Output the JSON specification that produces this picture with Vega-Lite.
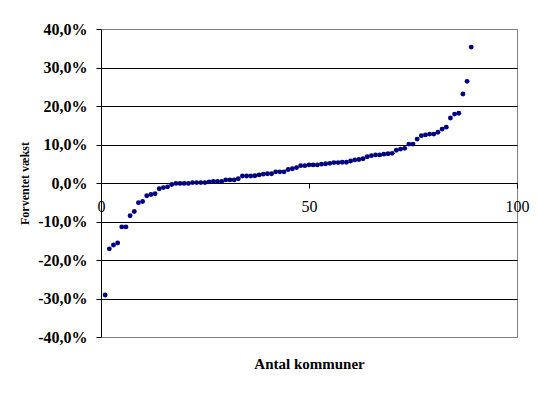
{
  "$schema": "https://vega.github.io/schema/vega-lite/v6.json",
  "autosize": {"type": "none"},
  "width": 416,
  "height": 308,
  "padding": {"left": 101, "top": 29, "right": 21, "bottom": 61},
  "background": "white",
  "config": {
    "view": {"stroke": "#808080", "strokeWidth": 1},
    "font": "Liberation Serif"
  },
  "data": {
    "values": [
      {"k": 1, "v": -29.1}, {"k": 2, "v": -17.1}, {"k": 3, "v": -16.1}, {"k": 4, "v": -15.6},
      {"k": 5, "v": -11.4}, {"k": 6, "v": -11.4}, {"k": 7, "v": -8.5}, {"k": 8, "v": -7.4},
      {"k": 9, "v": -5.1}, {"k": 10, "v": -4.8}, {"k": 11, "v": -3.3}, {"k": 12, "v": -3.0},
      {"k": 13, "v": -2.8}, {"k": 14, "v": -1.5}, {"k": 15, "v": -1.2}, {"k": 16, "v": -1.0},
      {"k": 17, "v": -0.4}, {"k": 18, "v": -0.1}, {"k": 19, "v": -0.1}, {"k": 20, "v": -0.1},
      {"k": 21, "v": -0.1}, {"k": 22, "v": 0.1}, {"k": 23, "v": 0.1}, {"k": 24, "v": 0.1},
      {"k": 25, "v": 0.1}, {"k": 26, "v": 0.3}, {"k": 27, "v": 0.4}, {"k": 28, "v": 0.4},
      {"k": 29, "v": 0.4}, {"k": 30, "v": 0.8}, {"k": 31, "v": 0.8}, {"k": 32, "v": 0.8},
      {"k": 33, "v": 1.1}, {"k": 34, "v": 1.8}, {"k": 35, "v": 1.8}, {"k": 36, "v": 1.8},
      {"k": 37, "v": 1.9}, {"k": 38, "v": 2.1}, {"k": 39, "v": 2.3}, {"k": 40, "v": 2.4},
      {"k": 41, "v": 2.4}, {"k": 42, "v": 2.9}, {"k": 43, "v": 2.9}, {"k": 44, "v": 2.9},
      {"k": 45, "v": 3.5}, {"k": 46, "v": 3.7}, {"k": 47, "v": 4.0}, {"k": 48, "v": 4.5},
      {"k": 49, "v": 4.5}, {"k": 50, "v": 4.7}, {"k": 51, "v": 4.7}, {"k": 52, "v": 4.7},
      {"k": 53, "v": 4.9}, {"k": 54, "v": 5.0}, {"k": 55, "v": 5.1}, {"k": 56, "v": 5.3},
      {"k": 57, "v": 5.3}, {"k": 58, "v": 5.4}, {"k": 59, "v": 5.4}, {"k": 60, "v": 5.7},
      {"k": 61, "v": 6.0}, {"k": 62, "v": 6.1}, {"k": 63, "v": 6.3}, {"k": 64, "v": 6.8},
      {"k": 65, "v": 7.1}, {"k": 66, "v": 7.3}, {"k": 67, "v": 7.3}, {"k": 68, "v": 7.5},
      {"k": 69, "v": 7.6}, {"k": 70, "v": 7.7}, {"k": 71, "v": 8.5}, {"k": 72, "v": 8.8},
      {"k": 73, "v": 9.0}, {"k": 74, "v": 10.1}, {"k": 75, "v": 10.1}, {"k": 76, "v": 11.4},
      {"k": 77, "v": 12.3}, {"k": 78, "v": 12.5}, {"k": 79, "v": 12.7}, {"k": 80, "v": 12.7},
      {"k": 81, "v": 13.2}, {"k": 82, "v": 14.0}, {"k": 83, "v": 14.5}, {"k": 84, "v": 16.9},
      {"k": 85, "v": 17.9}, {"k": 86, "v": 18.1}, {"k": 87, "v": 23.1}, {"k": 88, "v": 26.4},
      {"k": 89, "v": 35.3}
    ]
  },
  "mark": {"type": "circle", "color": "#000080", "opacity": 1, "size": 24},
  "encoding": {
    "x": {
      "field": "k",
      "type": "quantitative",
      "scale": {"domain": [0, 100], "nice": false, "zero": false},
      "axis": {
        "values": [0, 50, 100],
        "offset": -154,
        "grid": false,
        "domainColor": "black",
        "tickColor": "black",
        "tickSize": 5,
        "labelFlush": false,
        "labelFont": "Liberation Serif",
        "labelFontSize": 16,
        "labelColor": "black",
        "labelPadding": 10,
        "title": "Antal kommuner",
        "titleFont": "Liberation Serif",
        "titleFontSize": 15,
        "titleFontWeight": "bold",
        "titleColor": "black",
        "titlePadding": 142
      }
    },
    "y": {
      "field": "v",
      "type": "quantitative",
      "scale": {"domain": [-40, 40], "nice": false},
      "axis": {
        "values": [-40, -30, -20, -10, 0, 10, 20, 30, 40],
        "labelExpr": "replace(replace(format(datum.value, '.1f'), '.', ','), '\u2212', '-') + '%'",
        "grid": true,
        "gridColor": {"condition": {"test": "abs(datum.value) == 40", "value": "#808080"}, "value": "black"},
        "gridOpacity": 1,
        "domainColor": "black",
        "tickColor": "black",
        "tickSize": 5,
        "labelFont": "Liberation Serif",
        "labelFontSize": 16,
        "labelFontWeight": "bold",
        "labelColor": "black",
        "labelPadding": 9,
        "title": "Forventet vækst",
        "titleFont": "Liberation Serif",
        "titleFontSize": 12,
        "titleFontWeight": "bold",
        "titleColor": "black",
        "titlePadding": 6
      }
    }
  }
}
